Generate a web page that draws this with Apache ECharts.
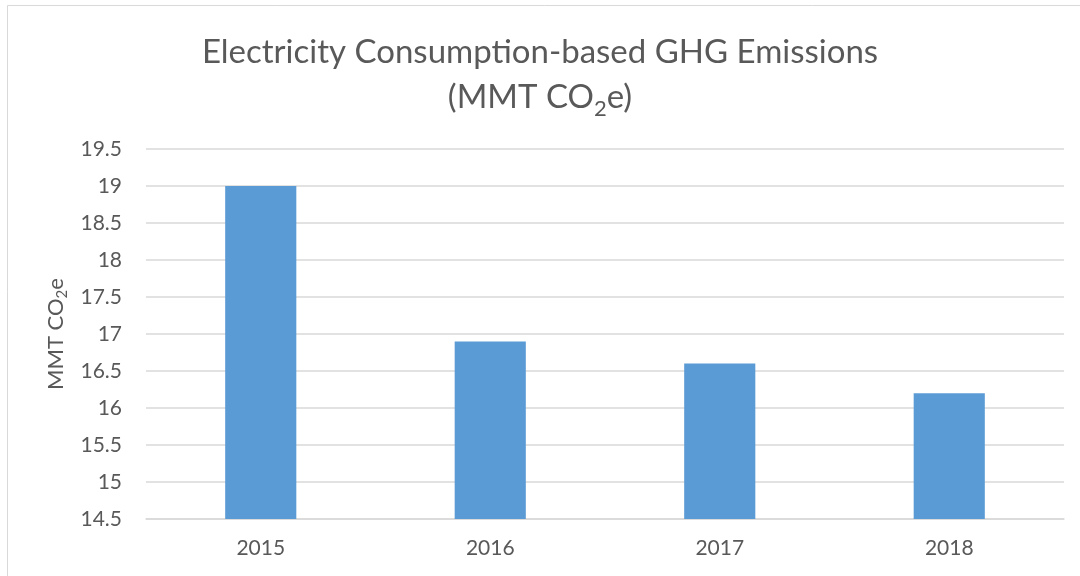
<!DOCTYPE html>
<html>
<head>
<meta charset="utf-8">
<script src="https://cdn.jsdelivr.net/npm/echarts@6/dist/echarts.min.js"></script>
<style>
    html, body { margin: 0; padding: 0; background: #fff; }
    #main { width: 1080px; height: 576px; }
</style>
</head>
<body>
<div id="main"></div>
<script>
    // data
    var years = ['2015', '2016', '2017', '2018'];
    var emissions = [19.0, 16.9, 16.6, 16.2];
    var yMin = 14.5, yMax = 19.5, yStep = 0.5;

    var grey = '#595959';
    var lineGrey = '#D9D9D9';
    var font = 'Lato';

    var myChart = echarts.init(document.getElementById('main'));

    var option = {
        animation: false,
        backgroundColor: '#fff',
        textStyle: { fontFamily: font },
        title: {
            text: '{t|Electricity Consumption-based GHG Emissions}\n{t|(MMT CO}{s|2}{t|e)}',
            left: 'center',
            top: 25,
            textStyle: {
                fontWeight: 'normal',
                rich: {
                    t: { fontFamily: font, fontSize: 33, fontWeight: 'normal', color: grey, lineHeight: 45 },
                    s: { fontFamily: font, fontSize: 22, fontWeight: 'normal', color: grey, lineHeight: 22, verticalAlign: 'bottom' }
                }
            }
        },
        graphic: [{
            type: 'rect',
            silent: true,
            shape: { x: 7.5, y: 5.5, width: 1100, height: 600 },
            style: { fill: 'none', stroke: lineGrey, lineWidth: 1 }
        }],
        grid: { left: 146, right: 16, top: 149, bottom: 57 },
        xAxis: {
            type: 'category',
            data: years,
            axisTick: { show: false },
            axisLine: { lineStyle: { color: lineGrey, width: 1.5 } },
            axisLabel: { color: grey, fontSize: 21, fontFamily: font, margin: 19 }
        },
        yAxis: {
            type: 'value',
            min: yMin,
            max: yMax,
            interval: yStep,
            name: '{n|MMT CO}{s|2}{n|e}',
            nameLocation: 'middle',
            nameGap: 67,
            nameTextStyle: {
                rich: {
                    n: { fontFamily: font, fontSize: 22, color: grey, lineHeight: 28 },
                    s: { fontFamily: font, fontSize: 15, color: grey, lineHeight: 15, verticalAlign: 'bottom' }
                }
            },
            axisLine: { show: false },
            axisTick: { show: false },
            axisLabel: { color: grey, fontSize: 21, fontFamily: font, margin: 24 },
            splitLine: { lineStyle: { color: lineGrey, width: 1.5 } }
        },
        series: [{
            type: 'bar',
            data: emissions,
            barWidth: '31%',
            itemStyle: { color: '#5B9BD5' }
        }]
    };
    myChart.setOption(option);
</script>
</body>
</html>
